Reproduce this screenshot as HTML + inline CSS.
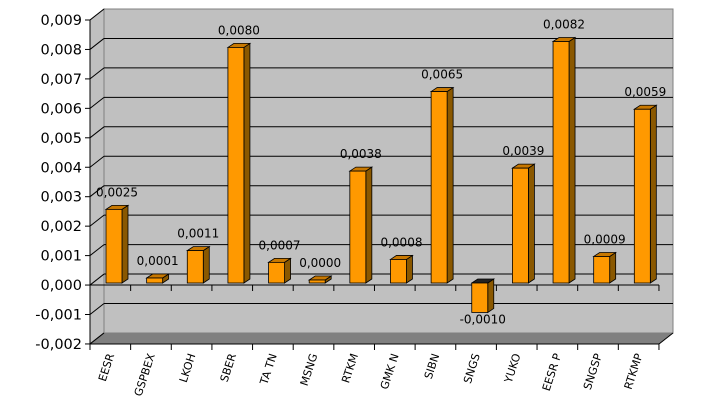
<!DOCTYPE html>
<html><head><meta charset="utf-8"><style>body{margin:0;background:#fff}svg{display:block}</style></head><body>
<svg width="709" height="408" viewBox="0 0 709 408" xmlns="http://www.w3.org/2000/svg" font-family="DejaVu Sans, Liberation Sans, sans-serif">
<rect width="709" height="408" fill="#fff"/>
<polygon points="90,20 104,9 104,333 90,344" fill="#c0c0c0" stroke="#808080"/>
<rect x="104" y="9" width="569" height="324" fill="#c0c0c0" stroke="#808080"/>
<polygon points="90,344 104,333 673,333 659,344" fill="#808080"/>
<g id="g" stroke="#000" stroke-width="1"></g>
<g id="b"></g>
<g id="t" font-size="11.5" fill="#000"></g>
</svg>
<script>
(function(){
var ns="http://www.w3.org/2000/svg";
function el(p,n,a,txt){var e=document.createElementNS(ns,n);for(var k in a)e.setAttribute(k,a[k]);if(txt!=null)e.textContent=txt;p.appendChild(e);return e;}
var g=document.getElementById('g'),b=document.getElementById('b'),t=document.getElementById('t');
var s=29.45;
for(var k=0;k<=11;k++){
 var v=9-k, yf=20+k*s, yb=yf-11;
 if(k>0&&k<11) el(g,'line',{x1:104,y1:yb,x2:673,y2:yb});
 el(g,'line',{x1:90,y1:yf,x2:104,y2:yb});
 el(g,'line',{x1:85,y1:yf,x2:90,y2:yf});
 var lab=(v<0?'-':'')+'0,00'+Math.abs(v);
 el(t,'text',{x:82,y:yf+5,'text-anchor':'end','font-size':'14.5'},lab);
}
el(g,'line',{x1:90,y1:20,x2:90,y2:344});
el(g,'line',{x1:90,y1:344,x2:659,y2:344});
el(g,'line',{x1:90,y1:285,x2:659,y2:285});
el(g,'line',{x1:659,y1:344,x2:673,y2:333});
for(var i=0;i<=14;i++){var x=90+i*40.64;el(g,'line',{x1:x,y1:344,x2:x,y2:350});el(g,'line',{x1:x,y1:285,x2:x,y2:291});}
var names=['EESR','GSPBEX','LKOH','SBER','TA TN','MSNG','RTKM','GMK N','SIBN','SNGS','YUKO','EESR P','SNGSP','RTKMP'];
var vals=[0.0025,0.0001,0.0011,0.0080,0.0007,0.0000,0.0038,0.0008,0.0065,-0.0010,0.0039,0.0082,0.0009,0.0059];
var base=283;
for(var i=0;i<14;i++){
 var v=vals[i],x=106+40.64*i,w=16,dx=6,dy=4;
 var yT=Math.min(base,base-v*29450),yB=Math.max(base,base-v*29450);
 if(yB-yT<4){yT=yB-(v>0?5:3);}
 var neg=v<0;
 el(b,'polygon',{points:[x+w,yT,x+w+dx,yT-dy,x+w+dx,yB-dy,x+w,yB].join(' '),fill:'#8a5800',stroke:'#000','stroke-width':0.8});
 el(b,'polygon',{points:[x,yT,x+dx,yT-dy,x+w+dx,yT-dy,x+w,yT].join(' '),fill:neg?'#222':'#c87800',stroke:'#000','stroke-width':0.8});
 el(b,'rect',{x:x,y:yT,width:w,height:yB-yT,fill:'#ff9900',stroke:'#000','stroke-width':0.8});
 var lab=(neg?'-':'')+'0,'+('0000'+Math.round(Math.abs(v)*10000)).slice(-4);
 el(t,'text',{x:x+11,y:neg?yB+11:yT-13,'text-anchor':'middle','font-size':'12'},lab);
 var cx=90+40.64*(i+0.5)+4;
 el(t,'text',{x:0,y:0,'text-anchor':'end','font-size':'11',transform:'translate('+cx+',355) rotate(-72)'},names[i]);
}
})();
</script>
</body></html>
